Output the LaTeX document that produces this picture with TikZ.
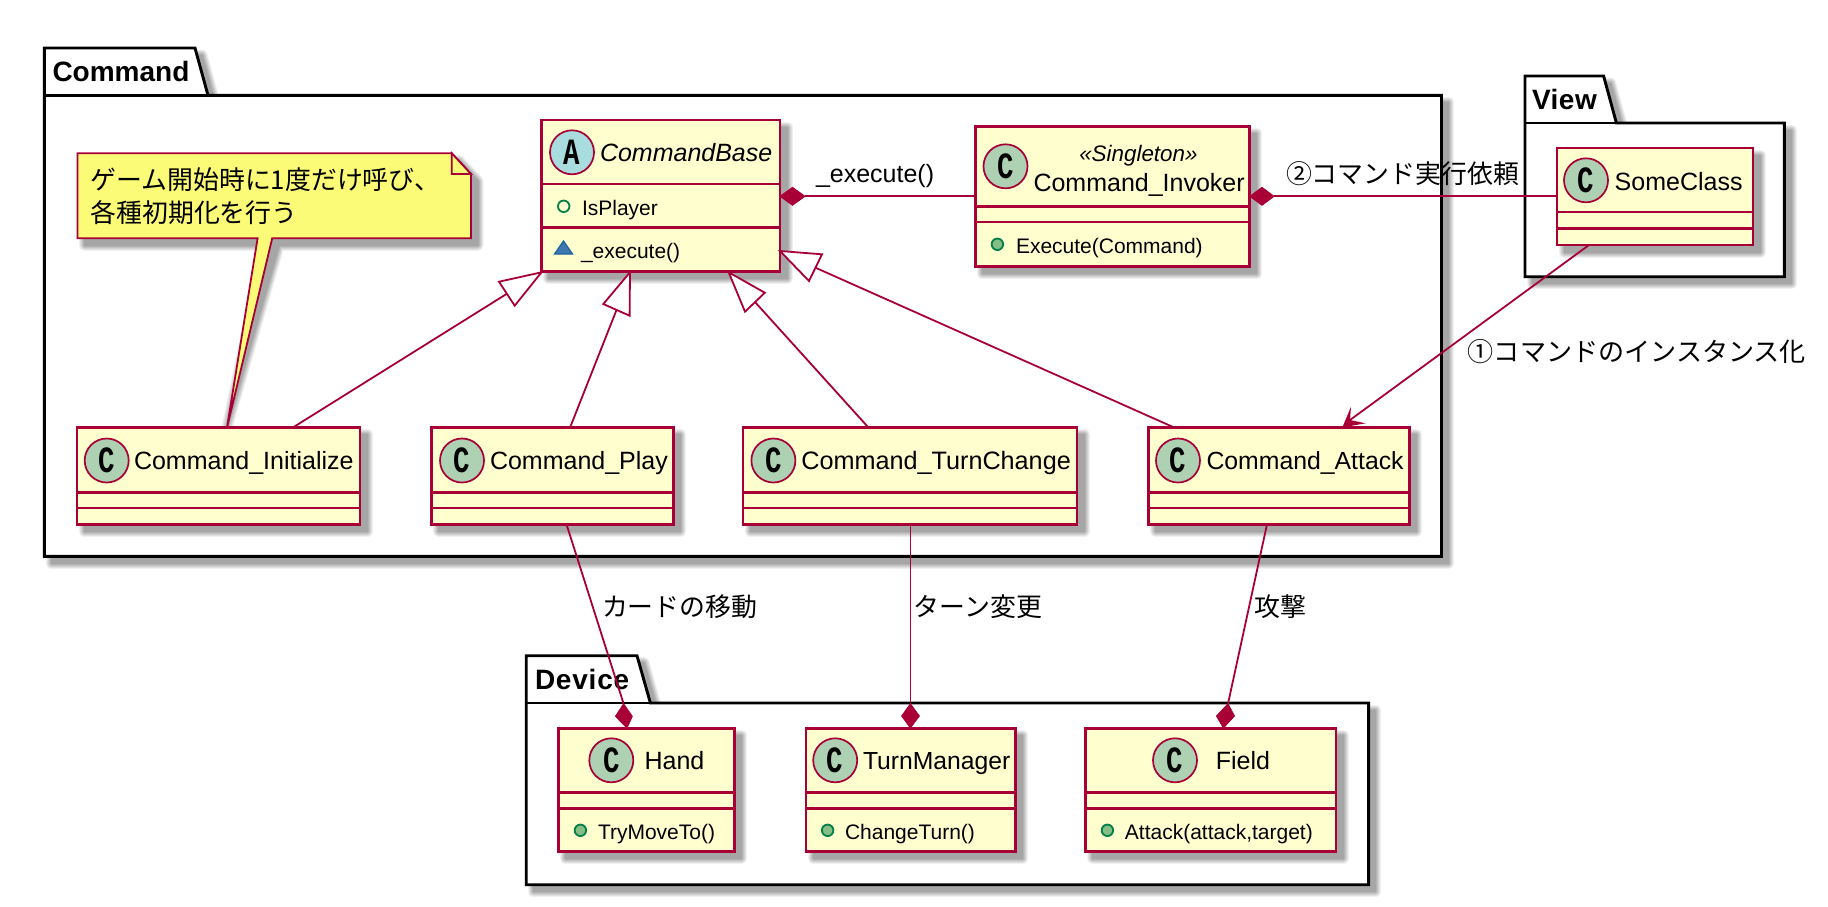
\documentclass[tikz,border=0pt]{standalone}
\usepackage{fontspec}
\setmainfont{Liberation Sans}
\newfontfamily\cjk{Noto Sans CJK JP}
\newfontfamily\badgefont{Liberation Mono}
\definecolor{umlred}{HTML}{A80036}
\definecolor{classfill}{HTML}{FEFECE}
\definecolor{notefill}{HTML}{FBFB77}
\definecolor{badgegreen}{HTML}{ADD1B2}
\definecolor{badgeblue}{HTML}{A9DCDF}
\definecolor{visgreen}{HTML}{038048}
\definecolor{visfill}{HTML}{84BE84}
\definecolor{trifill}{HTML}{4177AF}
\definecolor{tridraw}{HTML}{1963A0}
\newcommand{\bglyph}[1]{\scalebox{.74}[1]{#1}}
\tikzset{
  x=1pt,y=-1pt,
  txt/.style={anchor=base west,inner sep=0pt,outer sep=0pt,text=black},
  namefont/.style={font=\fontsize{25}{30}\selectfont},
  memberfont/.style={font=\fontsize{21}{25}\selectfont},
  labelfont/.style={font=\cjk\fontsize{25.9}{30}\selectfont},
  pkgfont/.style={font=\bfseries\fontsize{28}{32}\selectfont},
  classbox/.style={draw=umlred,fill=classfill,line width=2.9pt,inner sep=0pt,outer sep=0pt,anchor=north west},
  classline/.style={draw=umlred,line width=2.9pt},
  pkgline/.style={draw=black,fill=white,line width=2.9pt,line join=miter},
  badge/.style={circle,draw=umlred,line width=1.7pt,minimum size=44pt,inner sep=0pt,outer sep=0pt,font=\badgefont\bfseries\fontsize{37}{37}\selectfont},
  visopen/.style={circle,draw=visgreen,line width=1.8pt,minimum size=11.5pt,inner sep=0pt},
  visfilled/.style={circle,draw=visgreen,fill=visfill,line width=1.8pt,minimum size=11.5pt,inner sep=0pt},
  link/.style={draw=umlred,line width=1.8pt},
  headfilled/.style={draw=umlred,fill=umlred,line width=.8pt,line join=miter},
  headhollow/.style={draw=umlred,fill=white,line width=1.8pt,line join=miter},
  notebody/.style={draw=umlred,fill=notefill,line width=1.8pt,line join=miter},
}
\newcommand{\softshadow}[1]{%
  \foreach \w/\g in {11/6,9/12,7/18,5/24,3/30,1/35}{%
    \path[shift={(7,7)},fill=black!\g!white,draw=black!\g!white,line join=round,line width=\w pt] #1;
  }%
}
\newcommand{\umlclass}[7]{%
  \softshadow{(#2,#3) rectangle (#4,#5)}%
  \pgfmathsetmacro\cw{#4-#2}\pgfmathsetmacro\ch{#5-#3}%
  \node[classbox,minimum width=\cw pt,minimum height=\ch pt] (#1) at (#2,#3) {};
  \draw[classline] (#2,#6) -- (#4,#6);
  \draw[classline] (#2,#7) -- (#4,#7);
}
\newcommand{\umlpkg}[8]{% x1 tabtop bodytop x2 bottom tabtopright tabbotright
  \softshadow{(#1,#3) rectangle (#4,#5)}%
  \softshadow{(#1,#2) -- (#6,#2) -- (#7,#3) -- (#1,#3) -- cycle}%
  \draw[pkgline] (#1,#2) -- (#6,#2) -- (#7,#3) -- (#4,#3) -- (#4,#5) -- (#1,#5) -- cycle;
  \draw[pkgline] (#1,#3) -- (#7,#3);
  #8
}
\begin{document}
\begin{tikzpicture}
\useasboundingbox (0,0) rectangle (1828,906);
\fill[white] (0,0) rectangle (1828,906);

% packages
\umlpkg{44.3}{48}{95.3}{1441.5}{556.3}{195}{208}{\node[txt,pkgfont] (tcommand) at (52.5,81) {Command};}
\umlpkg{1525}{76}{123}{1784.3}{276.7}{1603.6}{1616.4}{\node[txt,pkgfont] (tview) at (1532,109) {\addfontfeatures{LetterSpace=1.8}View};}
\umlpkg{526.2}{655.7}{703}{1368.6}{884.7}{637}{650.4}{\node[txt,pkgfont] (tdevice) at (535,689) {\addfontfeatures{LetterSpace=2.8}Device};}

% classes
\umlclass{cb}{541.5}{120}{780}{271.7}{184}{227.3}
\umlclass{inv}{975.2}{126.3}{1249.8}{266.7}{206.3}{222}
\umlclass{some}{1557}{148}{1753}{245}{212}{228.3}
\umlclass{init}{77}{427.7}{360}{524.3}{492.3}{508}
\umlclass{play}{431.4}{427.7}{673.7}{524.3}{492.3}{508}
\umlclass{turn}{743}{427.7}{1077}{524.3}{492.3}{508}
\umlclass{atk}{1148.6}{427.7}{1409.2}{524.3}{492.3}{508}
\umlclass{hand}{558.3}{728.3}{734.3}{851.3}{792.3}{808.3}
\umlclass{tm}{806}{728.3}{1015.9}{851.3}{792.3}{808.3}
\umlclass{field}{1085.8}{728.3}{1336}{851.3}{792.3}{808.3}

% badges
\node[badge,fill=badgeblue] (bcb) at (572,152.3) {\bglyph{A}};
\node[badge,fill=badgegreen] (binv) at (1005.5,166.3) {\bglyph{C}};
\node[badge,fill=badgegreen] (bsome) at (1586,180.3) {\bglyph{C}};
\node[badge,fill=badgegreen] (binit) at (106.7,460.5) {\bglyph{C}};
\node[badge,fill=badgegreen] (bplay) at (462,460.5) {\bglyph{C}};
\node[badge,fill=badgegreen] (bturn) at (773.4,460.5) {\bglyph{C}};
\node[badge,fill=badgegreen] (batk) at (1178,460.5) {\bglyph{C}};
\node[badge,fill=badgegreen] (bhand) at (611.3,760.3) {\bglyph{C}};
\node[badge,fill=badgegreen] (btm) at (835.2,760.3) {\bglyph{C}};
\node[badge,fill=badgegreen] (bfield) at (1175,760.3) {\bglyph{C}};

% class names
\node[txt,font=\itshape\fontsize{25}{30}\selectfont] (ncb) at (600,161.7) {CommandBase};
\node[txt,anchor=base,font=\itshape\fontsize{22.4}{25}\selectfont] (ster) at (1138.4,161) {«Singleton»};
\node[txt,namefont] (ninv) at (1033.5,191) {Command\_Invoker};
\node[txt,namefont] (nsome) at (1614.7,190) {SomeClass};
\node[txt,namefont] (ninit) at (134,469.7) {Command\_Initialize};
\node[txt,namefont] (nplay) at (490,469.7) {Command\_Play};
\node[txt,font=\fontsize{25.2}{30}\selectfont] (nturn) at (801.4,469.7) {Command\_TurnChange};
\node[txt,font=\fontsize{24.8}{30}\selectfont] (natk) at (1206.5,469.7) {Command\_Attack};
\node[txt,namefont] (nhand) at (644.6,769.7) {Hand};
\node[txt,font=\fontsize{24.7}{30}\selectfont] (ntm) at (863,769.7) {TurnManager};
\node[txt,namefont] (nfield) at (1215.8,769.7) {Field};

% members
\node[visopen] (v1) at (563.7,206.3) {};
\node[txt,memberfont] (m1) at (582,215) {IsPlayer};
\draw[draw=tridraw,fill=trifill,line width=1.2pt,line join=miter] (554.5,254) -- (563.5,241) -- (572.5,254) -- cycle;
\node[txt,memberfont] (m2) at (581,258.3) {\_execute()};
\node[visfilled] (v3) at (997.4,244.3) {};
\node[txt,memberfont] (m3) at (1016,253.3) {Execute(Command)};
\node[visfilled] (v4) at (580.4,830.3) {};
\node[txt,memberfont] (m4) at (598,839) {TryMoveTo()};
\node[visfilled] (v5) at (827.6,830.3) {};
\node[txt,memberfont] (m5) at (845,839) {ChangeTurn()};
\node[visfilled] (v6) at (1107.4,830.3) {};
\node[txt,memberfont] (m6) at (1124.9,839) {Attack(attack,target)};

% note
\coordinate (notetip) at ([xshift=150pt]init.north west);
\begin{scope}
\clip (0,0) rectangle (1828,425);
\softshadow{(77.5,153.3) -- (451.8,153.3) -- (471,174) -- (471,238.3) -- (272.2,238.3) -- (notetip) -- (257.6,238.3) -- (77.5,238.3) -- cycle}
\end{scope}
\draw[notebody] (77.5,153.3) -- (451.8,153.3) -- (471,174) -- (471,238.3) -- (272.2,238.3) -- (notetip) -- (257.6,238.3) -- (77.5,238.3) -- cycle;
\draw[notebody] (451.8,153.3) -- (451.8,174) -- (471,174) -- cycle;
\node[txt,labelfont] (note1) at (90.4,189.5) {ゲーム開始時に1度だけ呼び、};
\node[txt,labelfont] (note2) at (90.4,222.5) {各種初期化を行う};

% generalisations
\coordinate (g1tip) at (541.5,272.3); \coordinate (g1a) at (499,281.7); \coordinate (g1b) at (514.7,305.7); \coordinate (g1m) at (507,293.7);
\coordinate (g2tip) at (630,272.3); \coordinate (g2a) at (603.3,304); \coordinate (g2b) at (629.6,315.7); \coordinate (g2m) at (616.5,310);
\coordinate (g3tip) at (728.7,272.3); \coordinate (g3a) at (745,311.7); \coordinate (g3b) at (764.8,292.7); \coordinate (g3m) at (755,302);
\coordinate (g4tip) at (780,251); \coordinate (g4a) at (822,254.3); \coordinate (g4b) at (809,281); \coordinate (g4m) at (815.5,267.7);
\draw[link] ([xshift=215.6pt]init.north west) -- (g1m);
\draw[headhollow] (g1tip) -- (g1a) -- (g1b) -- cycle;
\draw[link] ([xshift=138.6pt]play.north west) -- (g2m);
\draw[headhollow] (g2tip) -- (g2a) -- (g2b) -- cycle;
\draw[link] ([xshift=125.6pt]turn.north west) -- (g3m);
\draw[headhollow] (g3tip) -- (g3a) -- (g3b) -- cycle;
\draw[link] ([xshift=26pt]atk.north west) -- (g4m);
\draw[headhollow] (g4tip) -- (g4a) -- (g4b) -- cycle;

% compositions (horizontal)
\coordinate (d1a) at (780,196.3); \coordinate (d1b) at (792.5,187.3); \coordinate (d1c) at (805,196.3); \coordinate (d1d) at (792.5,205.3);
\draw[link] (inv.west |- d1c) -- (d1c);
\draw[headfilled] (d1a) -- (d1b) -- (d1c) -- (d1d) -- cycle;
\coordinate (d2a) at (1249.8,196.3); \coordinate (d2b) at (1262,187.3); \coordinate (d2c) at (1274,196.3); \coordinate (d2d) at (1262,205.3);
\draw[link] (some.west |- d2c) -- (d2c);
\draw[headfilled] (d2a) -- (d2b) -- (d2c) -- (d2d) -- cycle;

% compositions (vertical)
\coordinate (d3a) at (623.6,703.7); \coordinate (d3b) at (632.3,716.3); \coordinate (d3c) at (627,728); \coordinate (d3d) at (615.4,716.3);
\draw[link] ([xshift=135.1pt]play.south west) -- (d3a);
\draw[headfilled] (d3a) -- (d3b) -- (d3c) -- (d3d) -- cycle;
\coordinate (d4a) at (910.4,703.7); \coordinate (d4b) at (919.4,716); \coordinate (d4c) at (910.4,728); \coordinate (d4d) at (901.6,716);
\draw[link] ([xshift=167.4pt]turn.south west) -- (d4a);
\draw[headfilled] (d4a) -- (d4b) -- (d4c) -- (d4d) -- cycle;
\coordinate (d5a) at (1228,703.7); \coordinate (d5b) at (1234.5,716); \coordinate (d5c) at (1223.4,728); \coordinate (d5d) at (1216.4,716);
\draw[link] ([xshift=118.4pt]atk.south west) -- (d5a);
\draw[headfilled] (d5a) -- (d5b) -- (d5c) -- (d5d) -- cycle;

% dependency
\coordinate (a1tip) at (1342.4,427.3); \coordinate (a1a) at (1351,406.7); \coordinate (a1n) at (1350,420); \coordinate (a1b) at (1365.8,423.3);
\draw[link] ([xshift=32pt]some.south west) -- (a1n);
\fill[umlred] (a1tip) -- (a1a) -- (a1n) -- (a1b) -- cycle;

% connector labels
\node[txt,namefont] (l1) at (816,182.7) {\_execute()};
\node[txt,labelfont] (l2) at (1286,183) {②コマンド実行依頼};
\node[txt,font=\cjk\fontsize{26.1}{30}\selectfont] (l3) at (1467.8,361) {①コマンドのインスタンス化};
\node[txt,labelfont] (l4) at (602,616) {カードの移動};
\node[txt,labelfont] (l5) at (913.9,616) {ターン変更};
\node[txt,labelfont] (l6) at (1254.9,616) {攻撃};
\end{tikzpicture}
\end{document}
